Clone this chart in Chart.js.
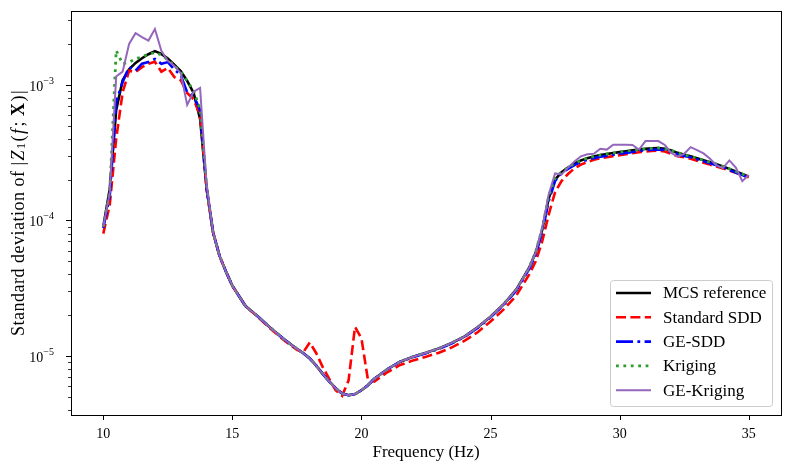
<!DOCTYPE html>
<html>
<head>
<meta charset="utf-8">
<script src="https://cdn.jsdelivr.net/npm/chart.js@4.4.0/dist/chart.umd.min.js"></script>
<style>
  html, body { margin: 0; padding: 0; background: #fff; }
  canvas { display: block; }
</style>
</head>
<body>
<canvas id="sdChart" width="790" height="470"></canvas>
<script>
// --- DATA ---
const freq = [
  10, 10.25, 10.5, 10.75, 11, 11.25, 11.5, 11.75, 12, 12.25, 12.5, 12.75, 13, 13.25, 13.5, 13.75,
  14, 14.25, 14.5, 14.75, 15, 15.5, 16, 16.5, 17, 17.5,
  17.75, 18, 18.25, 18.5, 18.75, 19, 19.25, 19.5, 19.75, 20, 20.25, 20.5,
  21, 21.5, 22, 22.5, 23, 23.5, 24, 24.5, 25, 25.5, 26, 26.5,
  26.75, 27, 27.25, 27.5, 27.75, 28, 28.25, 28.5, 28.75, 29, 29.25, 29.5, 29.75, 30, 30.25, 30.5,
  30.75, 31, 31.25, 31.5, 31.75, 32, 32.25, 32.5, 32.75, 33, 33.25, 33.5, 33.75, 34, 34.25, 34.5, 34.75, 35
];

const mcsRef = [
  9.0e-5, 1.7e-4, 6.5e-4, 1.08e-3, 1.3e-3, 1.45e-3, 1.57e-3, 1.68e-3, 1.77e-3, 1.69e-3, 1.56e-3, 1.41e-3, 1.26e-3, 1.07e-3, 8.7e-4, 5.6e-4,
  1.75e-4, 8.2e-5, 5.5e-5, 4.2e-5, 3.3e-5, 2.35e-5, 1.95e-5, 1.6e-5, 1.33e-5, 1.13e-5,
  1.05e-5, 9.6e-6, 8.5e-6, 7.4e-6, 6.5e-6, 5.8e-6, 5.3e-6, 5.15e-6, 5.25e-6, 5.6e-6, 6.1e-6, 6.8e-6,
  8.0e-6, 9.1e-6, 9.9e-6, 1.06e-5, 1.14e-5, 1.25e-5, 1.4e-5, 1.63e-5, 1.95e-5, 2.4e-5, 3.1e-5, 4.5e-5,
  5.8e-5, 8.5e-5, 1.45e-4, 2.0e-4, 2.27e-4, 2.45e-4, 2.62e-4, 2.77e-4, 2.88e-4, 2.96e-4, 3.03e-4, 3.09e-4, 3.14e-4, 3.19e-4, 3.24e-4, 3.29e-4,
  3.33e-4, 3.37e-4, 3.4e-4, 3.42e-4, 3.38e-4, 3.28e-4, 3.15e-4, 3.05e-4, 2.97e-4, 2.88e-4, 2.78e-4, 2.69e-4, 2.6e-4, 2.5e-4, 2.4e-4, 2.3e-4, 2.2e-4, 2.1e-4
];

const standardSdd = [
  8.0e-5, 1.3e-4, 4.0e-4, 8.8e-4, 1.27e-3, 1.24e-3, 1.35e-3, 1.43e-3, 1.48e-3, 1.25e-3, 1.33e-3, 1.14e-3, 1.08e-3, 8.7e-4, 7.8e-4, 6.0e-4,
  1.7e-4, 8.2e-5, 5.5e-5, 4.2e-5, 3.3e-5, 2.35e-5, 1.93e-5, 1.58e-5, 1.31e-5, 1.11e-5,
  1.07e-5, 1.26e-5, 1.05e-5, 8.3e-6, 6.8e-6, 5.6e-6, 5.1e-6, 6.6e-6, 1.64e-5, 1.35e-5, 6.7e-6, 6.5e-6,
  7.6e-6, 8.6e-6, 9.3e-6, 9.9e-6, 1.06e-5, 1.16e-5, 1.3e-5, 1.5e-5, 1.8e-5, 2.2e-5, 2.8e-5, 4.0e-5,
  5.0e-5, 7.0e-5, 1.1e-4, 1.62e-4, 1.95e-4, 2.2e-4, 2.42e-4, 2.58e-4, 2.7e-4, 2.8e-4, 2.87e-4, 2.93e-4, 2.98e-4, 3.03e-4, 3.08e-4, 3.13e-4,
  3.18e-4, 3.22e-4, 3.26e-4, 3.28e-4, 3.22e-4, 3.1e-4, 2.98e-4, 2.92e-4, 2.85e-4, 2.76e-4, 2.66e-4, 2.58e-4, 2.5e-4, 2.42e-4, 2.33e-4, 2.25e-4, 2.16e-4, 2.08e-4
];

const geSdd = [
  8.8e-5, 1.5e-4, 7.5e-4, 1.05e-3, 1.35e-3, 1.27e-3, 1.43e-3, 1.47e-3, 1.55e-3, 1.43e-3, 1.47e-3, 1.3e-3, 1.18e-3, 8.8e-4, 8.3e-4, 6.5e-4,
  1.75e-4, 8.2e-5, 5.5e-5, 4.2e-5, 3.3e-5, 2.35e-5, 1.95e-5, 1.6e-5, 1.33e-5, 1.13e-5,
  1.05e-5, 9.6e-6, 8.5e-6, 7.4e-6, 6.5e-6, 5.8e-6, 5.3e-6, 5.15e-6, 5.25e-6, 5.6e-6, 6.1e-6, 6.8e-6,
  8.0e-6, 9.1e-6, 9.85e-6, 1.05e-5, 1.13e-5, 1.24e-5, 1.39e-5, 1.61e-5, 1.93e-5, 2.37e-5, 3.05e-5, 4.4e-5,
  5.6e-5, 8.2e-5, 1.38e-4, 1.96e-4, 2.23e-4, 2.4e-4, 2.56e-4, 2.7e-4, 2.8e-4, 2.88e-4, 2.95e-4, 3.0e-4, 3.05e-4, 3.1e-4, 3.15e-4, 3.2e-4,
  3.25e-4, 3.29e-4, 3.32e-4, 3.34e-4, 3.3e-4, 3.2e-4, 3.08e-4, 2.99e-4, 2.92e-4, 2.83e-4, 2.73e-4, 2.64e-4, 2.55e-4, 2.46e-4, 2.36e-4, 2.26e-4, 2.16e-4, 2.07e-4
];

const kriging = [
  9.0e-5, 1.6e-4, 1.79e-3, 1.43e-3, 1.47e-3, 1.55e-3, 1.61e-3, 1.68e-3, 1.73e-3, 1.66e-3, 1.53e-3, 1.39e-3, 1.24e-3, 1.07e-3, 9.0e-4, 6.6e-4,
  1.8e-4, 8.2e-5, 5.5e-5, 4.2e-5, 3.3e-5, 2.35e-5, 1.95e-5, 1.6e-5, 1.33e-5, 1.13e-5,
  1.05e-5, 9.6e-6, 8.5e-6, 7.4e-6, 6.5e-6, 5.8e-6, 5.3e-6, 5.15e-6, 5.25e-6, 5.6e-6, 6.1e-6, 6.8e-6,
  8.0e-6, 9.1e-6, 9.9e-6, 1.06e-5, 1.14e-5, 1.25e-5, 1.4e-5, 1.63e-5, 1.95e-5, 2.4e-5, 3.1e-5, 4.5e-5,
  5.9e-5, 8.7e-5, 1.5e-4, 2.05e-4, 2.28e-4, 2.46e-4, 2.62e-4, 2.77e-4, 2.88e-4, 2.96e-4, 3.03e-4, 3.09e-4, 3.14e-4, 3.19e-4, 3.24e-4, 3.29e-4,
  3.33e-4, 3.37e-4, 3.4e-4, 3.42e-4, 3.38e-4, 3.28e-4, 3.15e-4, 3.05e-4, 2.97e-4, 2.88e-4, 2.78e-4, 2.69e-4, 2.6e-4, 2.5e-4, 2.4e-4, 2.3e-4, 2.2e-4, 2.1e-4
];

const geKriging = [
  9.0e-5, 1.6e-4, 1.15e-3, 1.25e-3, 2.0e-3, 2.4e-3, 2.25e-3, 2.12e-3, 2.58e-3, 1.78e-3, 1.5e-3, 1.38e-3, 1.22e-3, 7.1e-4, 8.9e-4, 9.5e-4,
  1.85e-4, 8.2e-5, 5.5e-5, 4.2e-5, 3.3e-5, 2.35e-5, 1.95e-5, 1.6e-5, 1.33e-5, 1.13e-5,
  1.05e-5, 9.6e-6, 8.5e-6, 7.4e-6, 6.5e-6, 5.8e-6, 5.3e-6, 5.15e-6, 5.25e-6, 5.6e-6, 6.1e-6, 6.8e-6,
  8.0e-6, 9.1e-6, 9.9e-6, 1.06e-5, 1.14e-5, 1.25e-5, 1.4e-5, 1.63e-5, 1.95e-5, 2.4e-5, 3.1e-5, 4.5e-5,
  5.8e-5, 8.8e-5, 1.55e-4, 2.22e-4, 2.18e-4, 2.45e-4, 2.72e-4, 2.97e-4, 3.08e-4, 3.1e-4, 3.38e-4, 3.33e-4, 3.62e-4, 3.62e-4, 3.62e-4, 3.6e-4,
  3.33e-4, 3.85e-4, 3.85e-4, 3.85e-4, 3.6e-4, 3.15e-4, 2.96e-4, 3.1e-4, 3.47e-4, 3.3e-4, 3.12e-4, 2.85e-4, 2.55e-4, 2.43e-4, 2.77e-4, 2.45e-4, 1.95e-4, 2.16e-4
];

// --- AXES ---
const xTicks = [10, 15, 20, 25, 30, 35];
const yMajorTicks = [1e-5, 1e-4, 1e-3];
const yTickBase = ['10', '10', '10'];
const yTickExp = ['−5', '−4', '−3'];
const yMinorTicks = [
  4e-6, 5e-6, 6e-6, 7e-6, 8e-6, 9e-6,
  2e-5, 3e-5, 4e-5, 5e-5, 6e-5, 7e-5, 8e-5, 9e-5,
  2e-4, 3e-4, 4e-4, 5e-4, 6e-4, 7e-4, 8e-4, 9e-4,
  2e-3, 3e-3
];

const SERIF = '"Liberation Serif", "Times New Roman", serif';

function toPoints(values) {
  return freq.map((f, i) => ({ x: f, y: values[i] }));
}

// --- PLUGIN: frame, tick marks, y labels, y title, legend ---
const decorPlugin = {
  id: 'decor',
  afterDatasetsDraw(chart) {
    const { ctx, chartArea: { left, right, top, bottom }, scales: { x, y } } = chart;
    ctx.save();
    ctx.strokeStyle = '#000';

    // ticks
    ctx.lineWidth = 1;
    ctx.beginPath();
    xTicks.forEach(v => {
      const px = Math.round(x.getPixelForValue(v)) + 0.5;
      ctx.moveTo(px, bottom); ctx.lineTo(px, bottom + 5);
    });
    yMajorTicks.forEach(v => {
      const py = Math.round(y.getPixelForValue(v)) + 0.5;
      ctx.moveTo(left, py); ctx.lineTo(left - 5, py);
    });
    ctx.stroke();
    ctx.lineWidth = 0.8;
    ctx.beginPath();
    yMinorTicks.forEach(v => {
      const py = Math.round(y.getPixelForValue(v)) + 0.5;
      ctx.moveTo(left, py); ctx.lineTo(left - 3, py);
    });
    ctx.stroke();

    // frame
    ctx.lineWidth = 1;
    ctx.strokeRect(Math.round(left) + 0.5, Math.round(top) + 0.5, Math.round(right - left), Math.round(bottom - top));

    // y tick labels: 10 with raised exponent
    ctx.fillStyle = '#000';
    ctx.textBaseline = 'alphabetic';
    ctx.textAlign = 'left';
    yMajorTicks.forEach((v, i) => {
      const py = y.getPixelForValue(v);
      ctx.font = '10px ' + SERIF;
      const we = ctx.measureText(yTickExp[i]).width;
      ctx.font = '14px ' + SERIF;
      const wb = ctx.measureText(yTickBase[i]).width;
      const x0 = 54 - we - wb;
      ctx.fillText(yTickBase[i], x0, py + 6);
      ctx.font = '10px ' + SERIF;
      ctx.fillText(yTickExp[i], x0 + wb, py - 1);
    });

    // y title (mixed styles, math part spaced out like mathtext)
    const parts = [
      { t: 'Standard deviation of ', f: '18px ' + SERIF, dy: 0 },
      { t: '|', f: '18px ' + SERIF, dy: 0 },
      { t: 'Z', f: 'italic 18px ' + SERIF, dy: 0 },
      { t: '1', f: '12px ' + SERIF, dy: 3 },
      { t: '(', f: '18px ' + SERIF, dy: 0 },
      { t: 'f', f: 'italic 18px ' + SERIF, dy: 0 },
      { t: ';', f: '18px ' + SERIF, dy: 0 },
      { t: 'X', f: 'bold 18px ' + SERIF, dy: 0 },
      { t: ')', f: '18px ' + SERIF, dy: 0 },
      { t: '|', f: '18px ' + SERIF, dy: 0 }
    ];
    const gaps = [0, 1, 1, 1, 1, 2, 5, 1, 1, 0];
    ctx.letterSpacing = '0.5px';
    let total = 0;
    parts.forEach((p, i) => { ctx.font = p.f; p.w = ctx.measureText(p.t).width + gaps[i]; total += p.w; });
    ctx.translate(19, (top + bottom) / 2);
    ctx.rotate(-Math.PI / 2);
    ctx.textBaseline = 'middle';
    let cx = -total / 2;
    parts.forEach(p => { ctx.font = p.f; ctx.fillText(p.t, cx, p.dy); cx += p.w; });
    ctx.setTransform(1, 0, 0, 1, 0, 0);
    ctx.letterSpacing = '0px';

    // legend
    const bx = 610.5, by = 280.5, bw = 162, bh = 126, r = 3;
    ctx.beginPath();
    ctx.moveTo(bx + r, by);
    ctx.arcTo(bx + bw, by, bx + bw, by + bh, r);
    ctx.arcTo(bx + bw, by + bh, bx, by + bh, r);
    ctx.arcTo(bx, by + bh, bx, by, r);
    ctx.arcTo(bx, by, bx + bw, by, r);
    ctx.closePath();
    ctx.fillStyle = 'rgba(255,255,255,0.8)';
    ctx.fill();
    ctx.strokeStyle = '#cccccc';
    ctx.lineWidth = 1;
    ctx.stroke();

    ctx.font = '17px ' + SERIF;
    ctx.textBaseline = 'middle';
    chart.data.datasets.forEach((ds, i) => {
      const ry = 293 + i * 24.3;
      ctx.strokeStyle = ds.borderColor;
      ctx.lineWidth = ds.borderWidth;
      ctx.lineCap = 'butt';
      ctx.setLineDash(ds.borderDash || []);
      ctx.beginPath();
      ctx.moveTo(616, ry); ctx.lineTo(651, ry);
      ctx.stroke();
      ctx.setLineDash([]);
      ctx.fillStyle = '#000';
      ctx.fillText(ds.label, 663, ry + 1);
    });
    ctx.restore();
  }
};

// --- CHART ---
new Chart(document.getElementById('sdChart'), {
  type: 'line',
  data: {
    datasets: [
      { label: 'MCS reference', data: toPoints(mcsRef), borderColor: '#000000', borderWidth: 2.6, order: 5 },
      { label: 'Standard SDD', data: toPoints(standardSdd), borderColor: '#ff0000', borderWidth: 2.6, borderDash: [10, 4.4], order: 4 },
      { label: 'GE-SDD', data: toPoints(geSdd), borderColor: '#0000ff', borderWidth: 2.6, borderDash: [17, 4.4, 2.8, 4.4], order: 3 },
      { label: 'Kriging', data: toPoints(kriging), borderColor: '#2ca02c', borderWidth: 2.8, borderDash: [2.8, 4.6], order: 2 },
      { label: 'GE-Kriging', data: toPoints(geKriging), borderColor: '#9467bd', borderWidth: 2, order: 1 }
    ]
  },
  options: {
    responsive: false, animation: false, devicePixelRatio: 1,
    layout: { padding: { top: 11, right: 9, left: 0, bottom: 0 } },
    elements: { point: { radius: 0 }, line: { tension: 0, borderCapStyle: 'butt', fill: false } },
    plugins: { legend: { display: false }, tooltip: { enabled: false } },
    scales: {
      x: {
        type: 'linear', min: 8.75, max: 36.25,
        afterBuildTicks: s => { s.ticks = xTicks.map(v => ({ value: v })); },
        afterFit: s => { s.height = 55; s.paddingLeft = 0; s.paddingRight = 0; },
        grid: { display: false },
        border: { display: false },
        ticks: { autoSkip: false, maxRotation: 0, padding: 3, color: '#000', font: { family: SERIF, size: 14 } },
        title: { display: true, text: 'Frequency (Hz)', color: '#000', font: { family: SERIF, size: 17 }, padding: { top: 0, bottom: 7 } }
      },
      y: {
        type: 'logarithmic', min: 3.68e-6, max: 3.5e-3,
        afterBuildTicks: s => { s.ticks = yMajorTicks.map(v => ({ value: v, major: true })); },
        afterFit: s => { s.width = 71; s.paddingTop = 0; s.paddingBottom = 0; },
        grid: { display: false },
        border: { display: false },
        ticks: { display: false }
      }
    }
  },
  plugins: [decorPlugin]
});
</script>
</body>
</html>
